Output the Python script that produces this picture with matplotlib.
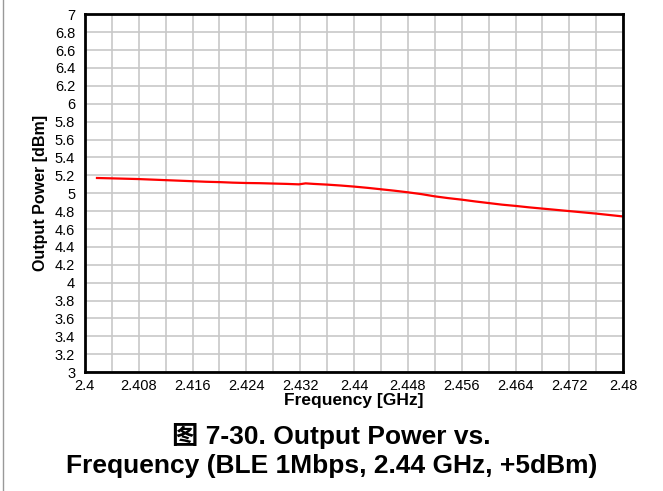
import matplotlib
matplotlib.use('Agg')
import matplotlib.pyplot as plt
from matplotlib.lines import Line2D
import numpy as np

# 数据
freq_ghz = [2.4018, 2.4040, 2.4060, 2.4080, 2.4100, 2.4120, 2.4140, 2.4160, 2.4180,
            2.4200, 2.4220, 2.4240, 2.4260, 2.4280, 2.4300, 2.4318, 2.4328, 2.4340,
            2.4360, 2.4380, 2.4400, 2.4420, 2.4440, 2.4460, 2.4480, 2.4500, 2.4520,
            2.4540, 2.4560, 2.4580, 2.4600, 2.4620, 2.4640, 2.4660, 2.4680, 2.4700,
            2.4720, 2.4740, 2.4760, 2.4780, 2.4800]
power_dbm = [5.170, 5.166, 5.162, 5.158, 5.152, 5.146, 5.140, 5.134, 5.128,
             5.124, 5.118, 5.114, 5.112, 5.108, 5.104, 5.099, 5.110, 5.104,
             5.096, 5.086, 5.074, 5.060, 5.044, 5.028, 5.010, 4.990, 4.965,
             4.945, 4.928, 4.908, 4.890, 4.872, 4.858, 4.842, 4.828, 4.814,
             4.800, 4.786, 4.772, 4.756, 4.740]

x_ticks = np.arange(2.4, 2.4801, 0.008)
x_tick_labels = ['2.4', '2.408', '2.416', '2.424', '2.432', '2.44', '2.448',
                 '2.456', '2.464', '2.472', '2.48']
y_ticks = np.arange(3, 7.01, 0.2)
y_tick_labels = ['3', '3.2', '3.4', '3.6', '3.8', '4', '4.2', '4.4', '4.6', '4.8',
                 '5', '5.2', '5.4', '5.6', '5.8', '6', '6.2', '6.4', '6.6', '6.8', '7']

plt.rcParams['font.family'] = ['Liberation Sans', 'Noto Sans CJK SC', 'DejaVu Sans']

fig = plt.figure(figsize=(6.63, 4.91), dpi=100)
ax = fig.add_axes([0.128, 0.242, 0.812, 0.729])

ax.plot(freq_ghz, power_dbm, color='#ff0000', linewidth=1.6)

ax.set_xlim(2.4, 2.48)
ax.set_ylim(3, 7)
ax.set_xticks(x_ticks)
ax.set_xticklabels(x_tick_labels, fontsize=10.5)
ax.set_xticks(np.arange(2.4, 2.4801, 0.004), minor=True)
ax.set_yticks(y_ticks)
ax.set_yticklabels(y_tick_labels, fontsize=10.5)

ax.grid(True, which='both', color='#c8c8c8', linewidth=1.2)
ax.set_axisbelow(True)
ax.tick_params(which='both', length=0)
ax.tick_params(axis='x', pad=5)
ax.tick_params(axis='y', pad=7)

for s in ax.spines.values():
    s.set_linewidth(2)
    s.set_color('black')

ax.set_xlabel('Frequency [GHz]', fontsize=12.5, fontweight='bold', labelpad=0)
ax.set_ylabel('Output Power [dBm]', fontsize=11.5, fontweight='bold', labelpad=5)

fig.text(0.5, 0.112, '图 7-30. Output Power vs.', ha='center', va='center',
         fontsize=19, fontweight='bold')
fig.text(0.5, 0.051, 'Frequency (BLE 1Mbps, 2.44 GHz, +5dBm)', ha='center', va='center',
         fontsize=19, fontweight='bold')

# 左侧灰色边线
fig.add_artist(Line2D([0.004, 0.004], [0, 1], transform=fig.transFigure,
                      color='#999999', linewidth=1))

plt.savefig('out.png', dpi=100)
